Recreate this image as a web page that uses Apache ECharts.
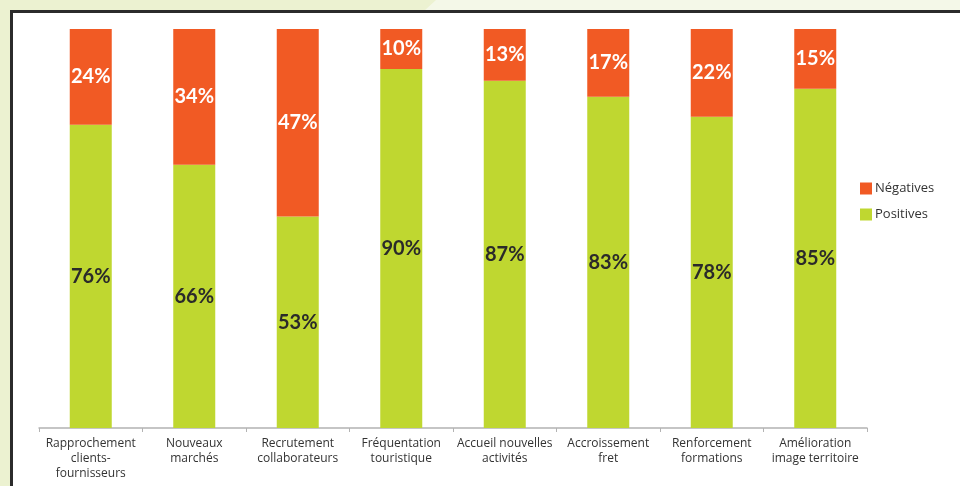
<!DOCTYPE html>
<html>
<head>
<meta charset="utf-8">
<script src="https://cdn.jsdelivr.net/npm/echarts@6/dist/echarts.min.js"></script>
<style>
html,body{margin:0;padding:0;background:#ecf2d1;}
#c{width:960px;height:486px;}
</style>
</head>
<body>
<div id="c"></div>
<script>
const categories = [
  "Rapprochement\nclients-\nfournisseurs",
  "Nouveaux\nmarchés",
  "Recrutement\ncollaborateurs",
  "Fréquentation\ntouristique",
  "Accueil nouvelles\nactivités",
  "Accroissement\nfret",
  "Renforcement\nformations",
  "Amélioration\nimage territoire"
];
const positives = [76, 66, 53, 90, 87, 83, 78, 85];
const negatives = [24, 34, 47, 10, 13, 17, 22, 15];

const chart = echarts.init(document.getElementById('c'), null, {renderer:'canvas'});
chart.setOption({
  backgroundColor: 'transparent',
  animation: false,
  graphic: [
    {type:'polygon', silent:true, z:-10, shape:{points:[[436,0],[960,0],[960,11],[424,11]]}, style:{fill:'#f4f8e8'}},
    {type:'rect', silent:true, z:-9, shape:{x:11.5, y:11.5, width:960, height:490}, style:{fill:'#ffffff', stroke:'#2b2b2b', lineWidth:3}}
  ],
  grid: {left:39, right:93, top:29, bottom:58, containLabel:false},
  legend: {
    data:['Négatives','Positives'],
    orient:'vertical', left:855, top:177,
    itemWidth:12, itemHeight:12, itemGap:13,
    icon:'rect',
    textStyle:{fontFamily:'Open Sans', fontSize:13, color:'#333333', padding:[0,0,0,-2]}
  },
  xAxis: {
    type:'category', data: categories,
    axisLine:{lineStyle:{color:'#b3b3b3', width:1.5}},
    axisTick:{show:true, length:4, lineStyle:{color:'#b3b3b3'}},
    axisLabel:{interval:0, margin:8, fontFamily:'Open Sans', fontSize:12, lineHeight:15, color:'#333333'}
  },
  yAxis: {type:'value', min:0, max:100, show:false, splitLine:{show:false}},
  series: [
    {
      name:'Positives', type:'bar', stack:'s', data: positives, barWidth:42,
      itemStyle:{color:'#bfd730'},
      label:{show:true, position:'inside', formatter:'{c}%', fontFamily:'Lato', fontWeight:'bold', fontSize:20, color:'#2a2a2a'}
    },
    {
      name:'Négatives', type:'bar', stack:'s', data: negatives, barWidth:42,
      itemStyle:{color:'#f15a24'},
      label:{show:true, position:'inside', formatter:'{c}%', fontFamily:'Lato', fontWeight:'bold', fontSize:20, color:'#ffffff'}
    }
  ]
});
</script>
</body>
</html>
